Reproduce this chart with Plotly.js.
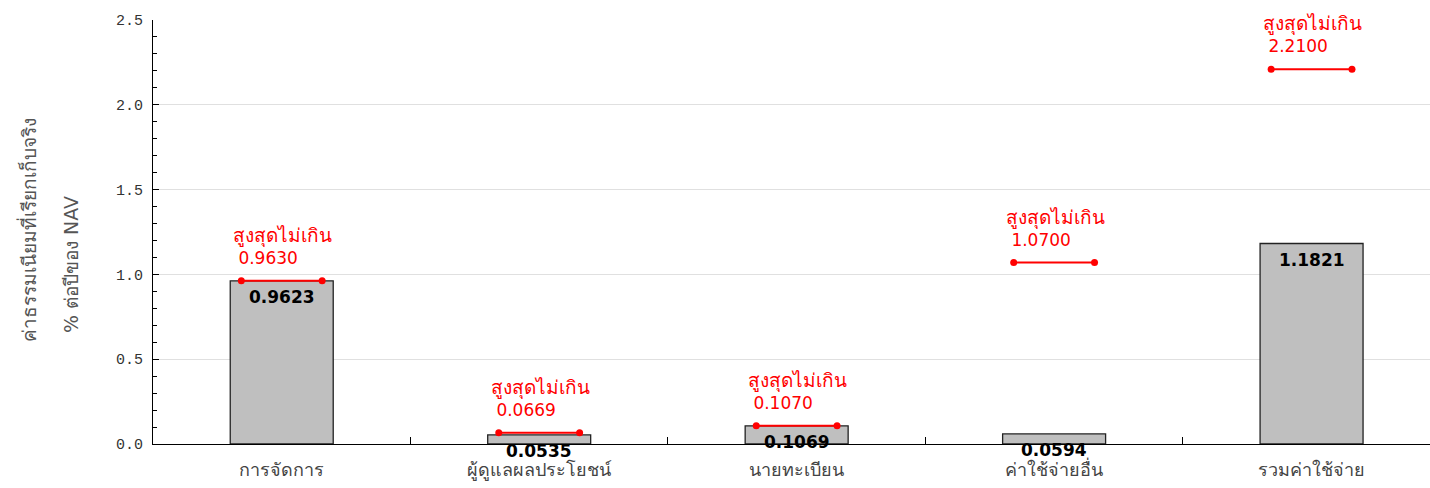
<!DOCTYPE html>
<html>
<head>
<meta charset="utf-8">
<script src="https://cdn.plot.ly/plotly-3.0.1.min.js"></script>
<style>html,body{margin:0;padding:0;background:#fff;}#chart{width:1430px;height:488px;}</style>
</head>
<body>
<div id="chart"></div>
<script>
const categories = ["การจัดการ", "ผู้ดูแลผลประโยชน์", "นายทะเบียน", "ค่าใช้จ่ายอื่น", "รวมค่าใช้จ่าย"];
const actualFees = [0.9623, 0.0535, 0.1069, 0.0594, 1.1821];
const maxFees = [0.9630, 0.0669, 0.1070, 1.0700, 2.2100];
const maxLabel = "สูงสุดไม่เกิน";
const yTitleLines = ["ค่าธรรมเนียมที่เรียกเก็บจริง", "% ต่อปีของ NAV"];
const yTickVals = [0, 0.5, 1.0, 1.5, 2.0, 2.5];
const yTickText = ["0.0", "0.5", "1.0", "1.5", "2.0", "2.5"];

const halfLine = 0.157;
const traces = [];

traces.push({
  type: "bar",
  x: categories,
  y: actualFees,
  width: 0.4,
  marker: {color: "#bfbfbf", line: {color: "#222", width: 1.3}},
  hoverinfo: "skip",
  showlegend: false
});

const annotations = [];
actualFees.forEach((v, i) => {
  annotations.push({
    xref: "x", yref: "y",
    x: categories[i], y: v,
    xanchor: "center", yanchor: "top",
    yshift: -4,
    showarrow: false,
    text: "<b>" + v.toFixed(4) + "</b>",
    font: {family: "DejaVu Sans", size: 17, color: "#000"}
  });
});

maxFees.forEach((v, i) => {
  traces.push({
    type: "scatter",
    mode: "lines+markers",
    xaxis: "x2",
    x: [i - halfLine, i + halfLine],
    y: [v, v],
    line: {color: "#ff0000", width: 2},
    marker: {color: "#ff0000", size: 7},
    hoverinfo: "skip",
    showlegend: false
  });
  annotations.push({
    xref: "x2", yref: "y",
    x: i - halfLine, y: v,
    xanchor: "left", yanchor: "bottom",
    xshift: -10, yshift: 11,
    align: "left",
    showarrow: false,
    text: "<span style='font-size:19px'>" + maxLabel + "</span><br> " + v.toFixed(4),
    font: {family: "DejaVu Sans", size: 17, color: "#ff0000"}
  });
});

// y-axis title, two rotated lines
annotations.push({
  xref: "paper", yref: "paper", x: 0, y: 0.505,
  xanchor: "center", yanchor: "middle", xshift: -125,
  textangle: -90, showarrow: false,
  text: yTitleLines[0],
  font: {family: "DejaVu Sans", size: 19, color: "#555"}
});
annotations.push({
  xref: "paper", yref: "paper", x: 0, y: 0.422,
  xanchor: "center", yanchor: "middle", xshift: -82,
  textangle: -90, showarrow: false,
  text: yTitleLines[1],
  font: {family: "DejaVu Sans", size: 19, color: "#555"}
});

const layout = {
  width: 1430, height: 488,
  margin: {l: 153, r: 0, t: 20, b: 44},
  paper_bgcolor: "#fff", plot_bgcolor: "#fff",
  showlegend: false,
  xaxis: {
    type: "category",
    range: [-0.5, 4.46],
    tickson: "boundaries",
    ticks: "inside", ticklen: 7, tickcolor: "#000", tickwidth: 1,
    showline: true, linecolor: "#000", linewidth: 1,
    showgrid: false, zeroline: false,
    ticklabelstandoff: 9,
    tickfont: {family: "DejaVu Sans", size: 18, color: "#444"}
  },
  xaxis2: {
    overlaying: "x",
    range: [-0.5, 4.46],
    visible: false
  },
  yaxis: {
    range: [0, 2.5],
    tickvals: yTickVals, ticktext: yTickText,
    ticks: "inside", ticklen: 6, tickcolor: "#000",
    showline: true, linecolor: "#000", linewidth: 1,
    showgrid: true, gridcolor: "#e0e0e0", gridwidth: 1,
    zeroline: false,
    minor: {dtick: 0.1, ticks: "inside", ticklen: 4, tickcolor: "#000", showgrid: false},
    ticklabelstandoff: 6,
    tickfont: {family: "Liberation Mono", size: 15, color: "#333"}
  },
  annotations: annotations
};

Plotly.newPlot("chart", traces, layout, {displayModeBar: false, staticPlot: true});
</script>
</body>
</html>
